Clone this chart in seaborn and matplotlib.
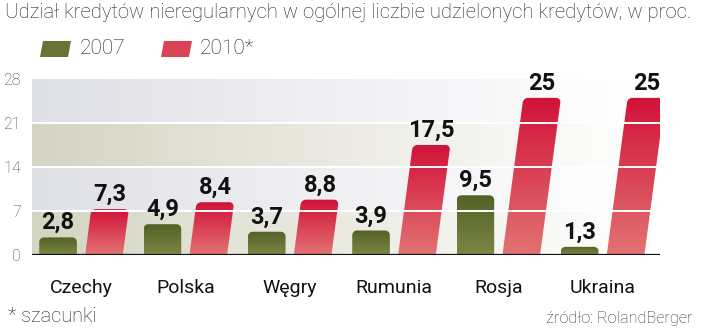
import numpy as np
import pandas as pd
import matplotlib
matplotlib.use("Agg")
import matplotlib.pyplot as plt
import seaborn as sns
from matplotlib.patches import Polygon

# ---- data ----
categories = ["Czechy", "Polska", "Węgry", "Rumunia", "Rosja", "Ukraina"]
series = ["2007", "2010*"]
values_2007 = [2.8, 4.9, 3.7, 3.9, 9.5, 1.3]
values_2010 = [7.3, 8.4, 8.8, 17.5, 25, 25]
y_ticks = [0, 7, 14, 21, 28]
title = "Udział kredytów nieregularnych w ogólnej liczbie udzielonych kredytów, w proc."
footnote = "* szacunki"
source = "źródło: RolandBerger"

GREEN_TOP, GREEN_BOT = np.array([0.33, 0.38, 0.15]), np.array([0.48, 0.53, 0.27])
RED_TOP, RED_BOT = np.array([0.82, 0.07, 0.22]), np.array([0.89, 0.45, 0.45])

sns.set_theme(style="white")
plt.rcParams["font.family"] = ["Roboto", "DejaVu Sans"]

df = pd.DataFrame({
    "kraj": categories * 2,
    "rok": [series[0]] * len(categories) + [series[1]] * len(categories),
    "v": values_2007 + values_2010,
})

fig = plt.figure(figsize=(7.2, 3.29), dpi=100)
ax = fig.add_axes([32 / 720, 1 - 255 / 329, 628 / 720, 176 / 329])

sns.barplot(data=df, x="kraj", y="v", hue="rok", palette=["#5d6a2c", "#d8263e"],
            width=0.88, gap=0.18, saturation=1, legend=False, ax=ax, zorder=3)

XMIN, XMAX = -0.47, 5.55
ax.set_xlim(XMIN, XMAX)
ax.set_ylim(0, 28)

# background bands fading to white at the right
H, W = 280, 300
bg = np.ones((H, W, 4))
beige = np.array([0.835, 0.835, 0.765])
grey = np.array([0.875, 0.882, 0.902])
t = np.linspace(0, 1, W)
alpha = np.clip(1 - t, 0, 1) ** 1.1
for i in range(H):
    yv = (i + 0.5) / H * 28
    band = int(yv // 7)
    bg[i, :, :3] = beige if band % 2 == 0 else grey
    bg[i, :, 3] = alpha
ax.imshow(bg, extent=[XMIN, XMAX, 0, 28], origin="lower", aspect="auto", zorder=0)


def rounded_bar(x0, w, h, k, rx=0.045, ry=0.75):
    """vertices of a bar with rounded top corners, skewed by x += k*y"""
    ry = min(ry, h / 2)
    pts = [(x0, 0), (x0 + w, 0)]
    th = np.linspace(0, np.pi / 2, 8)
    for a in th:  # top-right corner
        pts.append((x0 + w - rx + rx * np.cos(a), h - ry + ry * np.sin(a)))
    for a in th:  # top-left corner
        pts.append((x0 + rx - rx * np.sin(a), h - ry + ry * np.cos(a)))
    return np.array([(x + k * y, y) for x, y in pts])


# bars: gradient fill, red bars slanted
K = 0.0080
bars = list(ax.patches)
n = len(categories)
grad = np.linspace(0, 1, 100)[:, None]
for idx, p in enumerate(bars):
    is_red = idx >= n
    x0, w, h = p.get_x(), p.get_width(), p.get_height()
    k = K if is_red else 0.0
    p.set_facecolor("none")
    p.set_edgecolor("none")
    poly = Polygon(rounded_bar(x0, w, h, k), closed=True, facecolor="none",
                   edgecolor="none", transform=ax.transData)
    ax.add_patch(poly)
    top, bot = (RED_TOP, RED_BOT) if is_red else (GREEN_TOP, GREEN_BOT)
    img = bot[None, None, :] * (1 - grad[:, :, None]) + top[None, None, :] * grad[:, :, None]
    img = np.repeat(img, 2, axis=1)
    shift = k * h
    im = ax.imshow(img, extent=[x0, x0 + w + shift, 0, h], origin="lower",
                   aspect="auto", zorder=3, interpolation="bilinear")
    im.set_clip_path(poly)
    lab = f"{h:g}".replace(".", ",")
    ax.text(x0 + w / 2 + shift, h + 0.5, lab, ha="center", va="bottom",
            fontsize=17, fontweight="bold", color="#111111", zorder=6)

ax.set_xlim(XMIN, XMAX)
ax.set_ylim(0, 28)

for yv in y_ticks[1:-1]:
    ax.axhline(yv, color="white", lw=1.4, zorder=5)
ax.axhline(0, color="#111111", lw=1.6, zorder=6)

for s in ax.spines.values():
    s.set_visible(False)
ax.set_yticks(y_ticks)
ax.set_yticklabels([str(v) for v in y_ticks], fontsize=11.5, color="#444444", fontweight="light")
ax.tick_params(axis="y", length=0, pad=8)
ax.tick_params(axis="x", length=0, pad=17)
for tl in ax.get_xticklabels():
    tl.set_fontsize(14)
    tl.set_color("#111111")
    tl.set_fontweight("normal")
ax.set_xlabel("")
ax.set_ylabel("")

# title, legend, notes
fig.text(5 / 720, 1 - 13 / 329, title, fontsize=14.6, fontweight="light", color="#222222",
         ha="left", va="center")
leg_specs = [(40, GREEN_TOP, GREEN_BOT, series[0], 80), (161, RED_TOP, RED_BOT, series[1], 200)]
for x_px, ctop, cbot, lab, tx in leg_specs:
    x0, x1 = x_px / 720, (x_px + 28) / 720
    y0, y1 = 1 - 57 / 329, 1 - 41 / 329
    sk = 3 / 720
    fig.patches.append(Polygon([(x0, y0), (x1, y0), (x1 + sk, y1), (x0 + sk, y1)], closed=True,
                               transform=fig.transFigure, facecolor=(ctop + cbot) / 2,
                               edgecolor="none"))
    fig.text(tx / 720, 1 - 48 / 329, lab, fontsize=15, fontweight="light", color="#222222",
             ha="left", va="center")
fig.text(8 / 720, 1 - 316 / 329, footnote, fontsize=14.4, fontweight="light", color="#222222",
         ha="left", va="center")
fig.text(693 / 720, 1 - 318 / 329, source, fontsize=11.7, fontweight="light", color="#333333",
         ha="right", va="center")

fig.savefig("out.png", dpi=100)
